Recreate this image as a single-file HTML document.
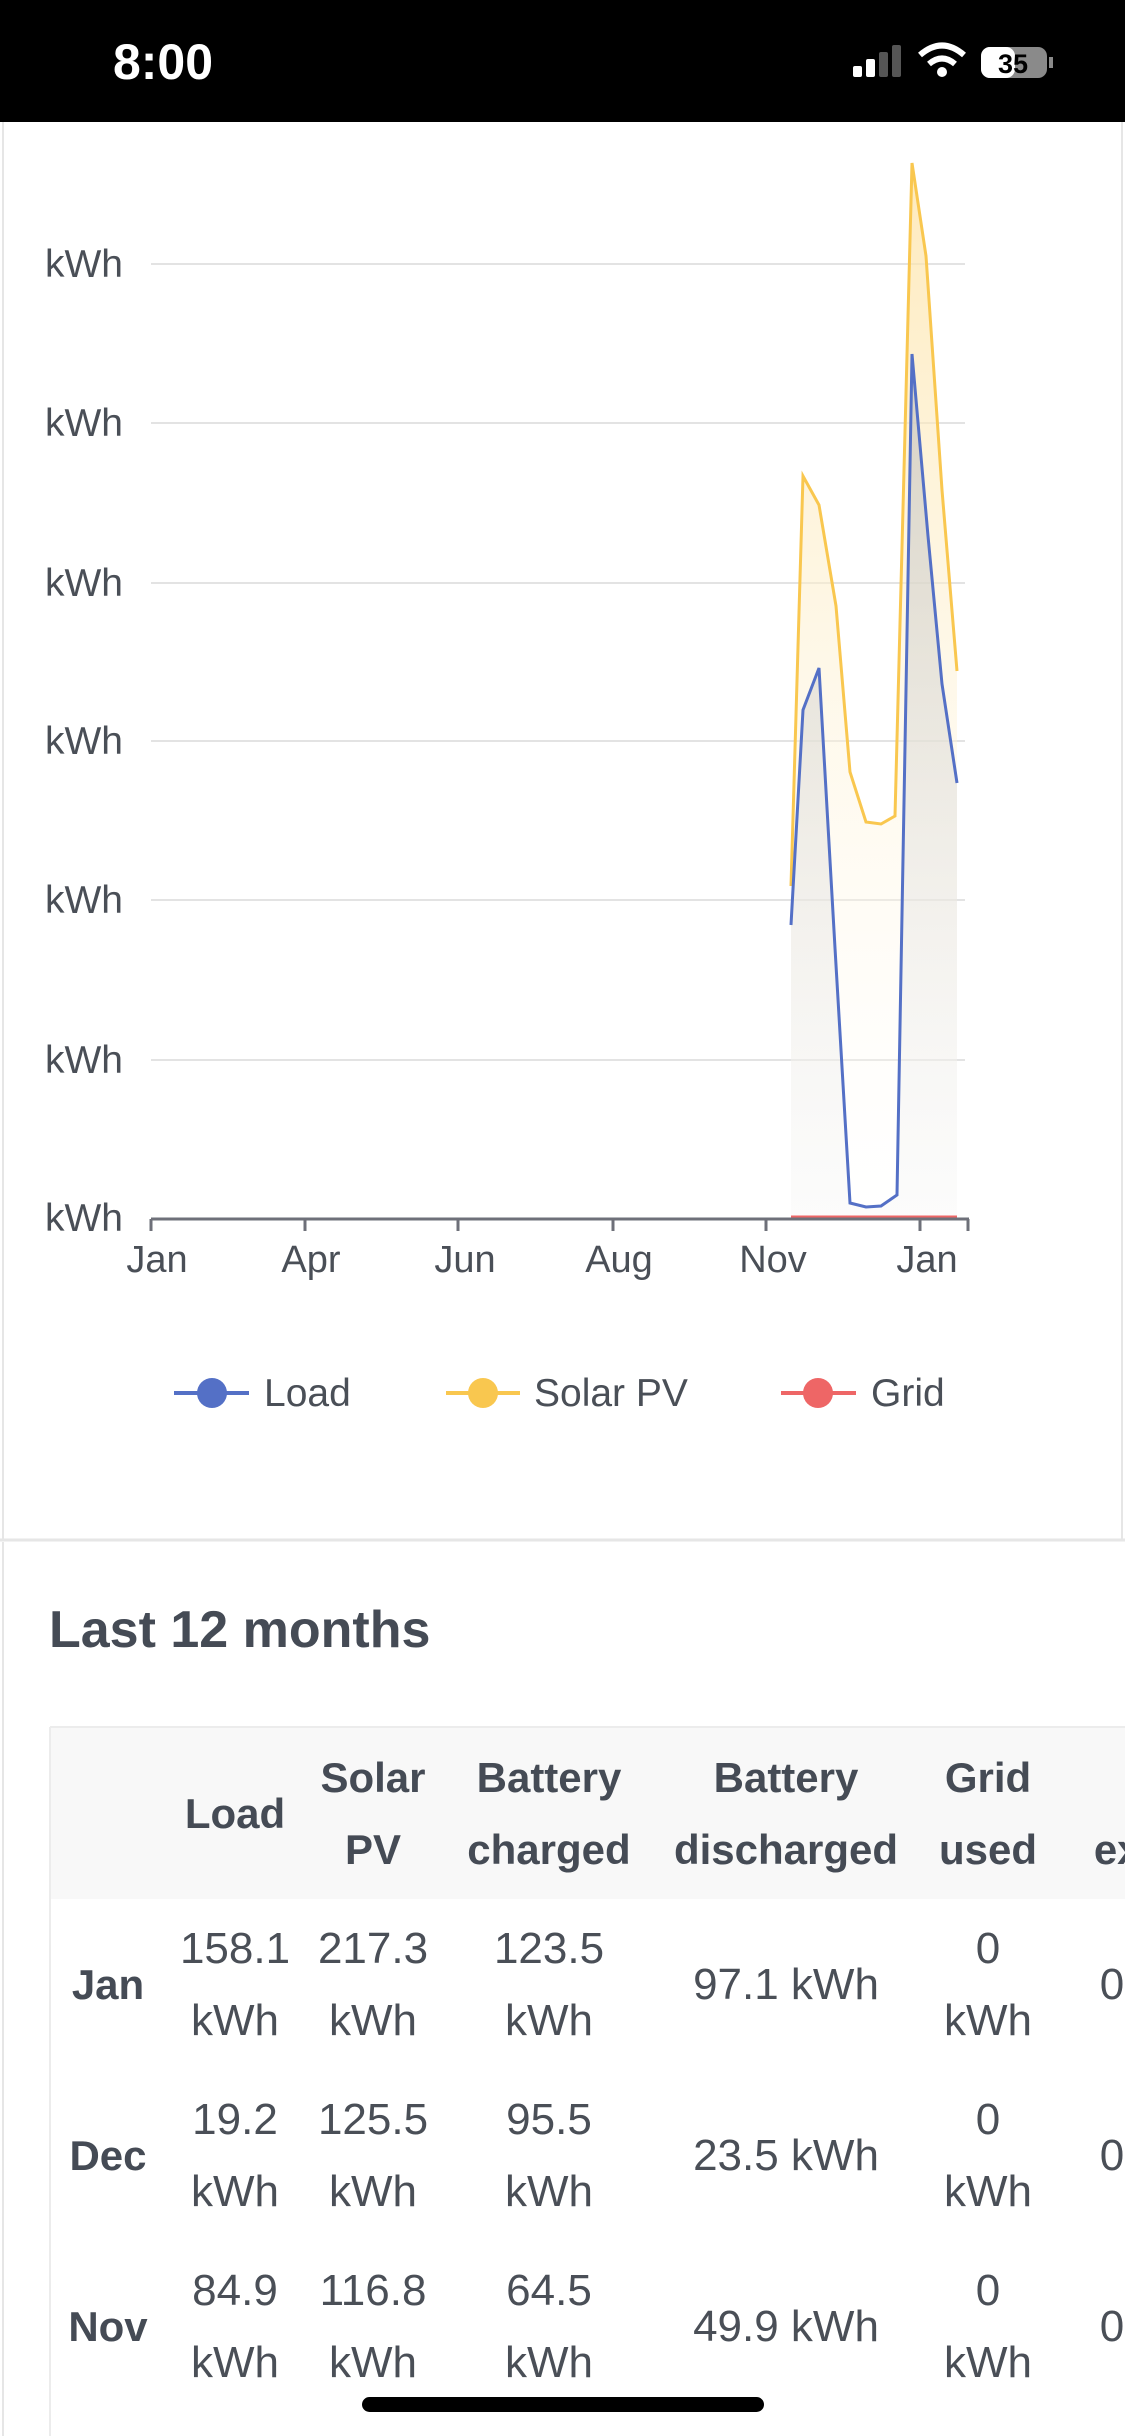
<!DOCTYPE html>
<html><head><meta charset="utf-8"><style>
html,body{margin:0;padding:0;width:1125px;height:2436px;overflow:hidden;background:#fff;font-family:"Liberation Sans",sans-serif}
svg{display:block}
</style></head><body>
<svg width="1125" height="2436" viewBox="0 0 1125 2436" xmlns="http://www.w3.org/2000/svg" font-family="Liberation Sans, sans-serif">
<defs>
<linearGradient id="gy" x1="0" y1="0" x2="0" y2="1"><stop offset="0" stop-color="#fde3a6" stop-opacity="0.75"/><stop offset="1" stop-color="#fff" stop-opacity="0.2"/></linearGradient>
<linearGradient id="gg" x1="0" y1="0" x2="0" y2="1"><stop offset="0" stop-color="#c8c6c0" stop-opacity="0.75"/><stop offset="1" stop-color="#f4f4f4" stop-opacity="0.3"/></linearGradient>
</defs>
<rect x="0" y="0" width="1125" height="122" fill="#000"/>
<text x="163" y="79" fill="#fff" font-size="50" font-weight="bold" text-anchor="middle">8:00</text>
<rect x="853" y="66" width="9" height="11" rx="2" fill="#fff"/>
<rect x="866" y="59" width="9" height="18" rx="2" fill="#fff"/>
<rect x="879" y="52" width="9" height="25" rx="2" fill="#555"/>
<rect x="892" y="45" width="9" height="32" rx="2" fill="#555"/>
<path d="M920 55 Q942 36 964 55" stroke="#fff" stroke-width="6" fill="none"/>
<path d="M929 64 Q942 53 955 64" stroke="#fff" stroke-width="6" fill="none"/>
<circle cx="942" cy="72" r="5" fill="#fff"/>
<rect x="981" y="47" width="66" height="31" rx="9" fill="#8a8a8a"/>
<rect x="981" y="47" width="34" height="31" rx="9" fill="#fff"/>
<text x="1013" y="73" font-size="27" font-weight="bold" fill="#000" text-anchor="middle">35</text>
<rect x="1049" y="57" width="4" height="11" fill="#8a8a8a"/>
<line x1="3" y1="122" x2="3" y2="1540" stroke="#e6e6e6" stroke-width="2"/>
<line x1="1122" y1="122" x2="1122" y2="1540" stroke="#e6e6e6" stroke-width="2"/>
<line x1="0" y1="1540" x2="1125" y2="1540" stroke="#e6e6e6" stroke-width="3"/>
<g stroke="#e3e3e3" stroke-width="2">
<line x1="151" y1="264" x2="965" y2="264"/><line x1="151" y1="423" x2="965" y2="423"/><line x1="151" y1="583" x2="965" y2="583"/><line x1="151" y1="741" x2="965" y2="741"/><line x1="151" y1="900" x2="965" y2="900"/><line x1="151" y1="1060" x2="965" y2="1060"/>
</g>
<g fill="#4a4f57" font-size="39">
<text x="45" y="277">kWh</text><text x="45" y="436">kWh</text><text x="45" y="596">kWh</text><text x="45" y="754">kWh</text><text x="45" y="913">kWh</text><text x="45" y="1073">kWh</text><text x="45" y="1231">kWh</text>
</g>
<polygon points="791,886 803,476 819,505 836,606 850,772 866,822 881,824 895,816 912,163 926,256 942,490 957,671 957,1218 791,1218" fill="url(#gy)"/>
<polygon points="791,925 803,710 819,668 835,948 850,1203 866,1207 881,1206 897,1195 912,354 928,536 942,684 957,783 957,1218 791,1218" fill="url(#gg)"/>
<polyline points="791,886 803,476 819,505 836,606 850,772 866,822 881,824 895,816 912,163 926,256 942,490 957,671" fill="none" stroke="#f9c74f" stroke-width="3"/>
<polyline points="791,925 803,710 819,668 835,948 850,1203 866,1207 881,1206 897,1195 912,354 928,536 942,684 957,783" fill="none" stroke="#5470c6" stroke-width="3"/>
<line x1="791" y1="1217" x2="957" y2="1217" stroke="#ee6666" stroke-width="3"/>
<line x1="151" y1="1219" x2="969" y2="1219" stroke="#6e7079" stroke-width="3"/>
<g stroke="#6e7079" stroke-width="3">
<line x1="151" y1="1219" x2="151" y2="1231"/><line x1="305" y1="1219" x2="305" y2="1231"/><line x1="458" y1="1219" x2="458" y2="1231"/><line x1="613" y1="1219" x2="613" y2="1231"/><line x1="766" y1="1219" x2="766" y2="1231"/><line x1="920" y1="1219" x2="920" y2="1231"/><line x1="968" y1="1219" x2="968" y2="1231"/>
</g>
<g fill="#4a4f57" font-size="38" text-anchor="middle">
<text x="157" y="1272">Jan</text><text x="311" y="1272">Apr</text><text x="465" y="1272">Jun</text><text x="619" y="1272">Aug</text><text x="773" y="1272">Nov</text><text x="927" y="1272">Jan</text>
</g>
<line x1="174" y1="1393" x2="249" y2="1393" stroke="#5470c6" stroke-width="4"/><circle cx="212" cy="1393" r="15" fill="#5470c6"/>
<text x="264" y="1406" font-size="39" fill="#4a4f57">Load</text>
<line x1="446" y1="1393" x2="520" y2="1393" stroke="#f9c74f" stroke-width="4"/><circle cx="483" cy="1393" r="15" fill="#f9c74f"/>
<text x="534" y="1406" font-size="39" fill="#4a4f57">Solar PV</text>
<line x1="781" y1="1393" x2="856" y2="1393" stroke="#ee6666" stroke-width="4"/><circle cx="818" cy="1393" r="15" fill="#ee6666"/>
<text x="871" y="1406" font-size="39" fill="#4a4f57">Grid</text>
<line x1="3" y1="1542" x2="3" y2="2436" stroke="#e6e6e6" stroke-width="2"/>
<text x="49" y="1647" font-size="52" font-weight="bold" fill="#454b55">Last 12 months</text>
<rect x="50" y="1727" width="1080" height="172" fill="#f8f8f8"/>
<line x1="50" y1="1727" x2="1125" y2="1727" stroke="#ececec" stroke-width="2"/>
<line x1="50" y1="1727" x2="50" y2="2436" stroke="#ececec" stroke-width="2"/>
<g fill="#454b55" font-size="42" font-weight="bold" text-anchor="middle">
<text x="235" y="1828">Load</text>
<text x="373" y="1792">Solar</text><text x="373" y="1864">PV</text>
<text x="549" y="1792">Battery</text><text x="549" y="1864">charged</text>
<text x="786" y="1792">Battery</text><text x="786" y="1864">discharged</text>
<text x="988" y="1792">Grid</text><text x="988" y="1864">used</text>
<text x="1130" y="1864">exp</text>
<text x="108" y="1999">Jan</text><text x="108" y="2170">Dec</text><text x="108" y="2341">Nov</text>
</g>
<g fill="#4a4f57" font-size="44" text-anchor="middle">
<text x="235" y="1963">158.1</text><text x="235" y="2035">kWh</text>
<text x="373" y="1963">217.3</text><text x="373" y="2035">kWh</text>
<text x="549" y="1963">123.5</text><text x="549" y="2035">kWh</text>
<text x="786" y="1999">97.1 kWh</text>
<text x="988" y="1963">0</text><text x="988" y="2035">kWh</text>
<text x="1112" y="1999">0</text>
<text x="235" y="2134">19.2</text><text x="235" y="2206">kWh</text>
<text x="373" y="2134">125.5</text><text x="373" y="2206">kWh</text>
<text x="549" y="2134">95.5</text><text x="549" y="2206">kWh</text>
<text x="786" y="2170">23.5 kWh</text>
<text x="988" y="2134">0</text><text x="988" y="2206">kWh</text>
<text x="1112" y="2170">0</text>
<text x="235" y="2305">84.9</text><text x="235" y="2377">kWh</text>
<text x="373" y="2305">116.8</text><text x="373" y="2377">kWh</text>
<text x="549" y="2305">64.5</text><text x="549" y="2377">kWh</text>
<text x="786" y="2341">49.9 kWh</text>
<text x="988" y="2305">0</text><text x="988" y="2377">kWh</text>
<text x="1112" y="2341">0</text>
</g>
<rect x="362" y="2397" width="402" height="15" rx="7.5" fill="#000"/>
</svg>
</body></html>
